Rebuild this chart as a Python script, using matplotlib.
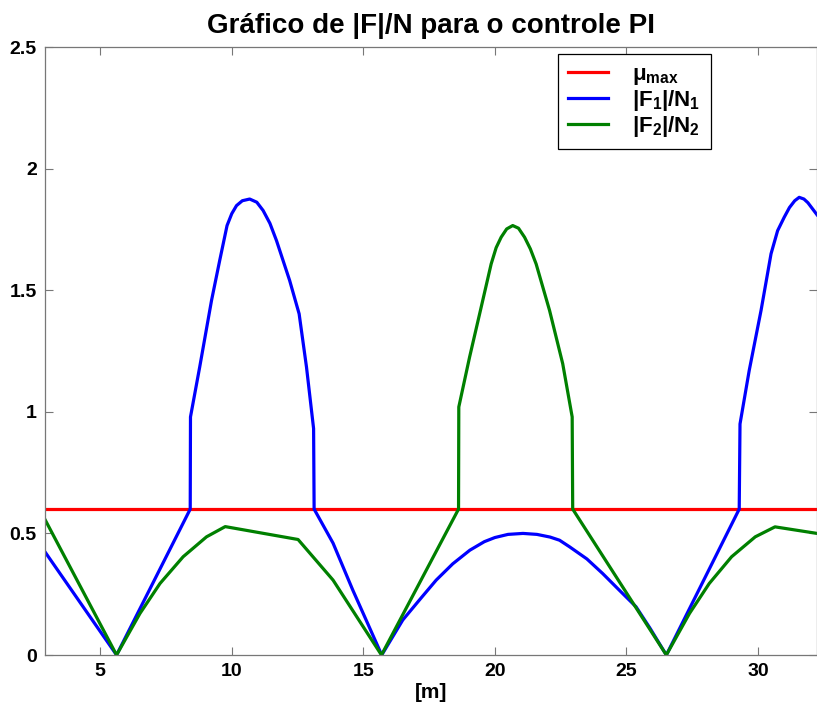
"""Gráfico de |F|/N para o controle PI (recriação em matplotlib)."""
import matplotlib
matplotlib.use("Agg")
import matplotlib.pyplot as plt
from matplotlib import font_manager
from matplotlib.ticker import FormatStrFormatter

# dados
mu_max = 0.6
x_range = [2.9, 32.25]

x_f1 = [2.9, 5.62, 8.42, 8.43, 8.78, 9.23, 9.54, 9.82, 10.0, 10.18, 10.4,
        10.68, 10.95, 11.19, 11.45, 11.70, 12.2, 12.56, 12.84, 13.11, 13.13,
        13.85, 14.6, 15.7, 16.5, 17.2, 17.77, 18.4, 19.05, 19.6, 20.0, 20.5,
        21.07, 21.6, 22.1, 22.46, 22.84, 23.5, 24.1, 24.7, 25.37, 25.9, 26.52,
        29.29, 29.32, 29.67, 30.12, 30.5, 30.75, 31.0, 31.2, 31.4, 31.57,
        31.75, 31.9, 32.25]
y_f1 = [0.424, 0.0, 0.6, 0.979, 1.184, 1.458, 1.622, 1.766, 1.815, 1.848, 1.868,
        1.875, 1.862, 1.828, 1.775, 1.704, 1.54, 1.403, 1.184, 0.931, 0.6,
        0.46, 0.267, 0.0, 0.144, 0.235, 0.308, 0.375, 0.431, 0.466, 0.483, 0.496,
        0.50, 0.496, 0.485, 0.472, 0.445, 0.395, 0.335, 0.27, 0.198, 0.11, 0.0,
        0.6, 0.95, 1.17, 1.417, 1.65, 1.745, 1.80, 1.84, 1.868, 1.882,
        1.875, 1.86, 1.81]

x_f2 = [2.9, 5.62, 6.51, 7.27, 8.15, 9.04, 9.75, 12.52, 13.85, 15.69, 18.62,
        18.63, 19.04, 19.48, 19.86, 20.05, 20.24, 20.45, 20.68, 20.9, 21.13,
        21.35, 21.57, 22.08, 22.58, 22.94, 22.96, 26.52, 27.4, 28.15, 29.0,
        29.9, 30.65, 32.25]
y_f2 = [0.557, 0.0, 0.171, 0.294, 0.404, 0.486, 0.528, 0.475, 0.308, 0.0, 0.6,
        1.02, 1.225, 1.43, 1.608, 1.675, 1.718, 1.752, 1.766, 1.755, 1.718,
        1.67, 1.608, 1.417, 1.198, 0.979, 0.6, 0.0, 0.171, 0.294, 0.404,
        0.486, 0.527, 0.50]

x_ticks = [5, 10, 15, 20, 25, 30]
y_ticks = [0, 0.5, 1, 1.5, 2, 2.5]

# fonte estreita se existir (imagem original comprimida na horizontal)
installed = {f.name for f in font_manager.fontManager.ttflist}
family = "Liberation Sans Narrow" if "Liberation Sans Narrow" in installed else "Liberation Sans"
plt.rcParams["font.family"] = [family, "DejaVu Sans"]
plt.rcParams["mathtext.default"] = "regular"

fig = plt.figure(figsize=(8.17, 7.15), dpi=100)
ax = fig.add_axes([0.0551, 0.0839, 0.945, 0.8503])

ax.plot(x_range, [mu_max, mu_max], color="#ff0000", lw=2.3, label=r"$\mu_{max}$")
ax.plot(x_f1, y_f1, color="#0000ff", lw=2.3, label=r"$|F_1|/N_1$")
ax.plot(x_f2, y_f2, color="#008000", lw=2.3, label=r"$|F_2|/N_2$")

ax.set_xlim(x_range)
ax.set_ylim(0, 2.5)
ax.set_xticks(x_ticks)
ax.set_yticks(y_ticks)
ax.yaxis.set_major_formatter(FormatStrFormatter("%g"))
ax.tick_params(direction="in", length=6, width=0.8, color="#777777",
               top=True, right=True, labelsize=14, pad=6)
for lab in ax.get_xticklabels() + ax.get_yticklabels():
    lab.set_fontweight("bold")
for sp in ax.spines.values():
    sp.set_color("#777777")
    sp.set_linewidth(0.9)

ax.set_xlabel("[m]", fontsize=15, fontweight="bold", labelpad=2)
ax.set_title("Gráfico de |F|/N para o controle PI", fontsize=20,
             fontweight="bold", pad=10)

leg = ax.legend(loc="upper left", bbox_to_anchor=(0.6645, 0.9885),
                borderaxespad=0, fancybox=False, framealpha=1,
                handlelength=1.8, handletextpad=1.1, labelspacing=0.05,
                borderpad=0.45, prop={"size": 16, "weight": "bold"})
leg.get_frame().set_edgecolor("black")
leg.get_frame().set_linewidth(0.9)

fig.savefig("out.png", dpi=100)
plt.close(fig)
